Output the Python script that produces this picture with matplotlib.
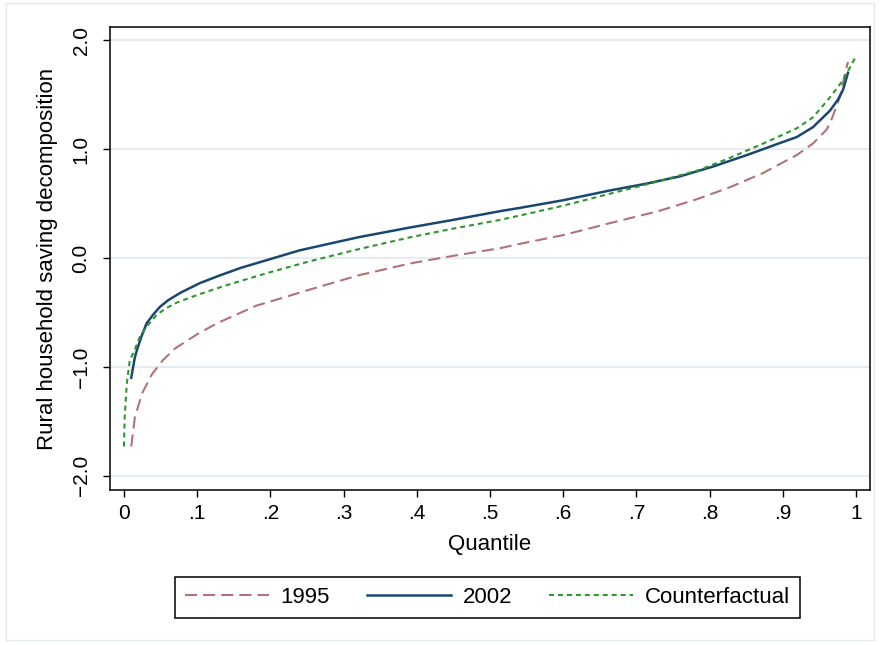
import matplotlib
matplotlib.use("Agg")
import matplotlib.pyplot as plt
from matplotlib.patches import Rectangle

plt.rcParams['font.family'] = ['Liberation Sans', 'DejaVu Sans']

# 1995 quantile curve
q1995 = [0.010, 0.015, 0.025, 0.038, 0.053, 0.070, 0.100, 0.127, 0.180, 0.254,
         0.320, 0.391, 0.450, 0.514, 0.541, 0.600, 0.664, 0.730, 0.783, 0.828,
         0.873, 0.919, 0.941, 0.960, 0.967, 0.978, 0.985, 0.989]
v1995 = [-1.73, -1.46, -1.24, -1.07, -0.94, -0.83, -0.70, -0.60, -0.44, -0.29,
         -0.16, -0.05, 0.02, 0.09, 0.13, 0.21, 0.32, 0.43, 0.54, 0.65,
         0.78, 0.945, 1.05, 1.18, 1.28, 1.48, 1.70, 1.80]

# 2002 quantile curve
q2002 = [0.010, 0.015, 0.018, 0.024, 0.031, 0.040, 0.049, 0.060, 0.077, 0.104,
         0.131, 0.160, 0.200, 0.240, 0.320, 0.391, 0.450, 0.514, 0.541, 0.600,
         0.664, 0.712, 0.760, 0.805, 0.851, 0.896, 0.919, 0.941, 0.964, 0.975,
         0.982, 0.989]
v2002 = [-1.10, -0.91, -0.84, -0.72, -0.60, -0.52, -0.45, -0.39, -0.32, -0.23,
         -0.16, -0.09, -0.01, 0.07, 0.19, 0.28, 0.35, 0.43, 0.46, 0.53,
         0.62, 0.68, 0.75, 0.84, 0.945, 1.055, 1.11, 1.20, 1.35, 1.45,
         1.54, 1.70]

# Counterfactual quantile curve
qcf = [0.000, 0.001, 0.004, 0.008, 0.015, 0.022, 0.031, 0.045, 0.058, 0.072,
       0.100, 0.131, 0.150, 0.200, 0.254, 0.320, 0.391, 0.450, 0.514, 0.541,
       0.600, 0.664, 0.728, 0.787, 0.828, 0.873, 0.919, 0.941, 0.955, 0.965,
       0.982, 0.999]
vcf = [-1.73, -1.46, -1.15, -0.94, -0.84, -0.72, -0.63, -0.52, -0.46, -0.41,
       -0.34, -0.27, -0.23, -0.13, -0.03, 0.08, 0.19, 0.27, 0.35, 0.39,
       0.48, 0.59, 0.70, 0.81, 0.92, 1.05, 1.19, 1.29, 1.40, 1.48,
       1.63, 1.84]

xticks = [0, 0.1, 0.2, 0.3, 0.4, 0.5, 0.6, 0.7, 0.8, 0.9, 1.0]
xticklabels = ["0", ".1", ".2", ".3", ".4", ".5", ".6", ".7", ".8", ".9", "1"]
yticks = [-2, -1, 0, 1, 2]
yticklabels = ["\u22122.0", "\u22121.0", "0.0", "1.0", "2.0"]

fig = plt.figure(figsize=(8.8, 6.45), dpi=100)
fig.patches.append(Rectangle((0.007, 0.007), 0.986, 0.988, transform=fig.transFigure,
                             fill=False, edgecolor='#e3e9ec', linewidth=1.0))
ax = fig.add_axes([0.125, 0.2403, 0.8636, 0.7178])

c95 = '#b07378'
c02 = '#1a476f'
ccf = '#2e962e'

ax.plot(q1995, v1995, color=c95, lw=1.5, linestyle=(0, (5.8, 2.9)), label='1995', zorder=3)
ax.plot(q2002, v2002, color=c02, lw=1.8, linestyle='-', label='2002', zorder=4)
ax.plot(qcf, vcf, color=ccf, lw=1.5, linestyle=(0, (2.4, 1.9)), label='Counterfactual', zorder=5)

ax.set_xlim(-0.019, 1.019)
ax.set_ylim(-2.13, 2.12)
ax.set_xticks(xticks)
ax.set_xticklabels(xticklabels)
ax.set_yticks(yticks)
ax.set_yticklabels(yticklabels, rotation=90, va='center')
ax.tick_params(axis='both', direction='out', length=5, width=1.0, labelsize=15, colors='black')
ax.tick_params(axis='x', pad=5)
ax.tick_params(axis='y', pad=9)
ax.yaxis.grid(True, color='#e6ecef', linewidth=1.6)
ax.set_axisbelow(True)
for s in ax.spines.values():
    s.set_linewidth(1.1)
    s.set_color('black')

ax.set_xlabel('Quantile', fontsize=16, labelpad=8)
ax.set_ylabel('Rural household saving decomposition', fontsize=16, labelpad=10)

leg = fig.legend(loc='center', bbox_to_anchor=(0.554, 0.0736), ncol=3, fontsize=16,
                 frameon=True, fancybox=False, edgecolor='black', framealpha=1,
                 handlelength=3.78, handletextpad=0.54, columnspacing=1.66,
                 borderpad=0.45)
leg.get_frame().set_linewidth(1.1)

fig.savefig('out.png', dpi=100)
